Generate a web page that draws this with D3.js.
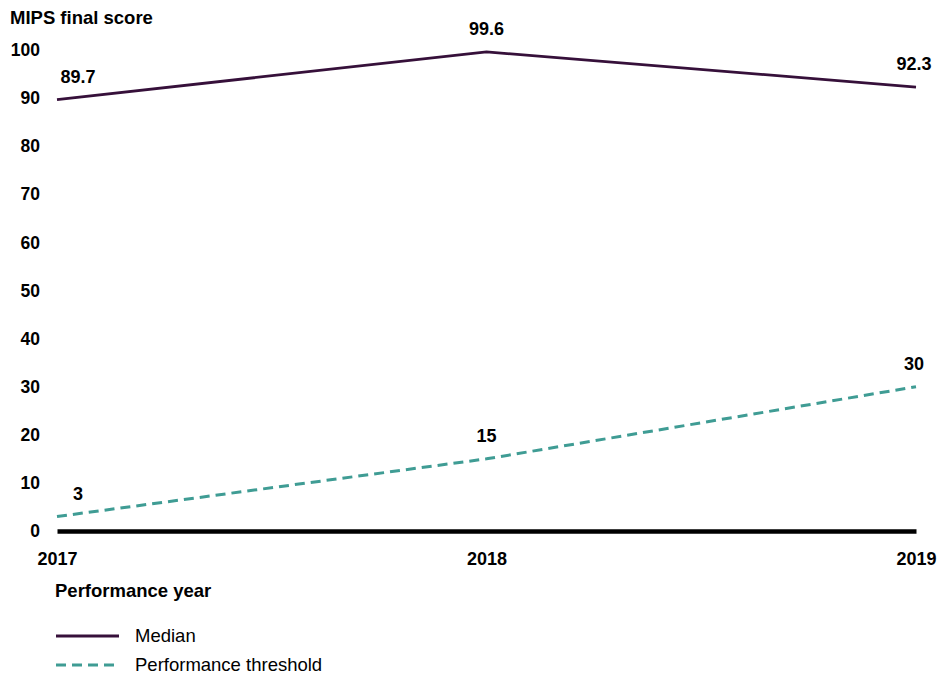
<!DOCTYPE html>
<html>
<head>
<meta charset="utf-8">
<script src="https://cdn.jsdelivr.net/npm/d3@7"></script>
<style>
  body { margin: 0; background: #fff; }
  svg text { font-family: "Liberation Sans", Arial, sans-serif; fill: #000; }
</style>
</head>
<body>
<svg id="chart"></svg>
<script>
const years = [2017, 2018, 2019];
const medianScores = [89.7, 99.6, 92.3];
const thresholdScores = [3, 15, 30];
const yTicks = [0, 10, 20, 30, 40, 50, 60, 70, 80, 90, 100];
const seriesNames = ["Median", "Performance threshold"];

const width = 951;
const height = 675;
const margin = ({ top: 50, right: 35, bottom: 144, left: 57 });

const svg = d3.select("#chart")
    .attr("width", width)
    .attr("height", height);

const xScale = d3.scalePoint()
    .domain(years)
    .range([margin.left, width - margin.right]);

const yScale = d3.scaleLinear()
    .domain([0, 100])
    .range([height - margin.bottom, margin.top]);

// y axis labels, no line
svg.append("g")
    .attr("transform", `translate(${margin.left - 17},0)`)
    .call(d3.axisLeft(yScale).tickValues(yTicks).tickSize(0).tickPadding(0))
    .call(g => g.select(".domain").remove())
    .call(g => g.selectAll("text")
        .attr("font-size", 17.5).attr("font-weight", "bold")
        .attr("font-family", "Liberation Sans, Arial, sans-serif"));

// x axis
svg.append("g")
    .attr("transform", `translate(0,${yScale(0)})`)
    .call(d3.axisBottom(xScale).tickSize(0).tickPadding(21))
    .call(g => g.select(".domain").attr("stroke", "#000").attr("stroke-width", 4.5))
    .call(g => g.selectAll("text")
        .attr("font-size", 18).attr("font-weight", "bold")
        .attr("font-family", "Liberation Sans, Arial, sans-serif"));

svg.append("text")
    .attr("x", 10).attr("y", 24)
    .attr("font-size", 18.5).attr("font-weight", "bold")
    .text("MIPS final score");

svg.append("text")
    .attr("x", 55).attr("y", 597)
    .attr("font-size", 18.5).attr("font-weight", "bold")
    .text("Performance year");

const line = d3.line()
    .x((d, i) => xScale(years[i]))
    .y(d => yScale(d));

svg.append("path")
    .datum(medianScores)
    .attr("fill", "none")
    .attr("stroke", "#36103a")
    .attr("stroke-width", 2.8)
    .attr("d", line);

svg.append("path")
    .datum(thresholdScores)
    .attr("fill", "none")
    .attr("stroke", "#3f9c94")
    .attr("stroke-width", 3)
    .attr("stroke-dasharray", "10,6")
    .attr("d", line);

// value labels
const labelOffset = i => i === 0 ? 21 : (i === years.length - 1 ? -2 : 0);
function addLabels(values) {
    svg.append("g")
        .selectAll("text")
        .data(values)
        .join("text")
        .attr("x", (d, i) => xScale(years[i]) + labelOffset(i))
        .attr("y", d => yScale(d) - 17)
        .attr("text-anchor", "middle")
        .attr("font-size", 18).attr("font-weight", "bold")
        .text(d => d);
}
addLabels(medianScores);
addLabels(thresholdScores);

// legend
const legend = svg.append("g")
    .selectAll("g")
    .data(seriesNames)
    .join("g")
    .attr("transform", (d, i) => `translate(56,${636 + i * 29})`);

legend.append("line")
    .attr("x1", 0).attr("x2", 63)
    .attr("stroke", (d, i) => i === 0 ? "#36103a" : "#3f9c94")
    .attr("stroke-width", 2.8)
    .attr("stroke-dasharray", (d, i) => i === 0 ? null : "10,6");

legend.append("text")
    .attr("x", 79).attr("y", 6)
    .attr("font-size", 18.5)
    .text(d => d);
</script>
</body>
</html>
